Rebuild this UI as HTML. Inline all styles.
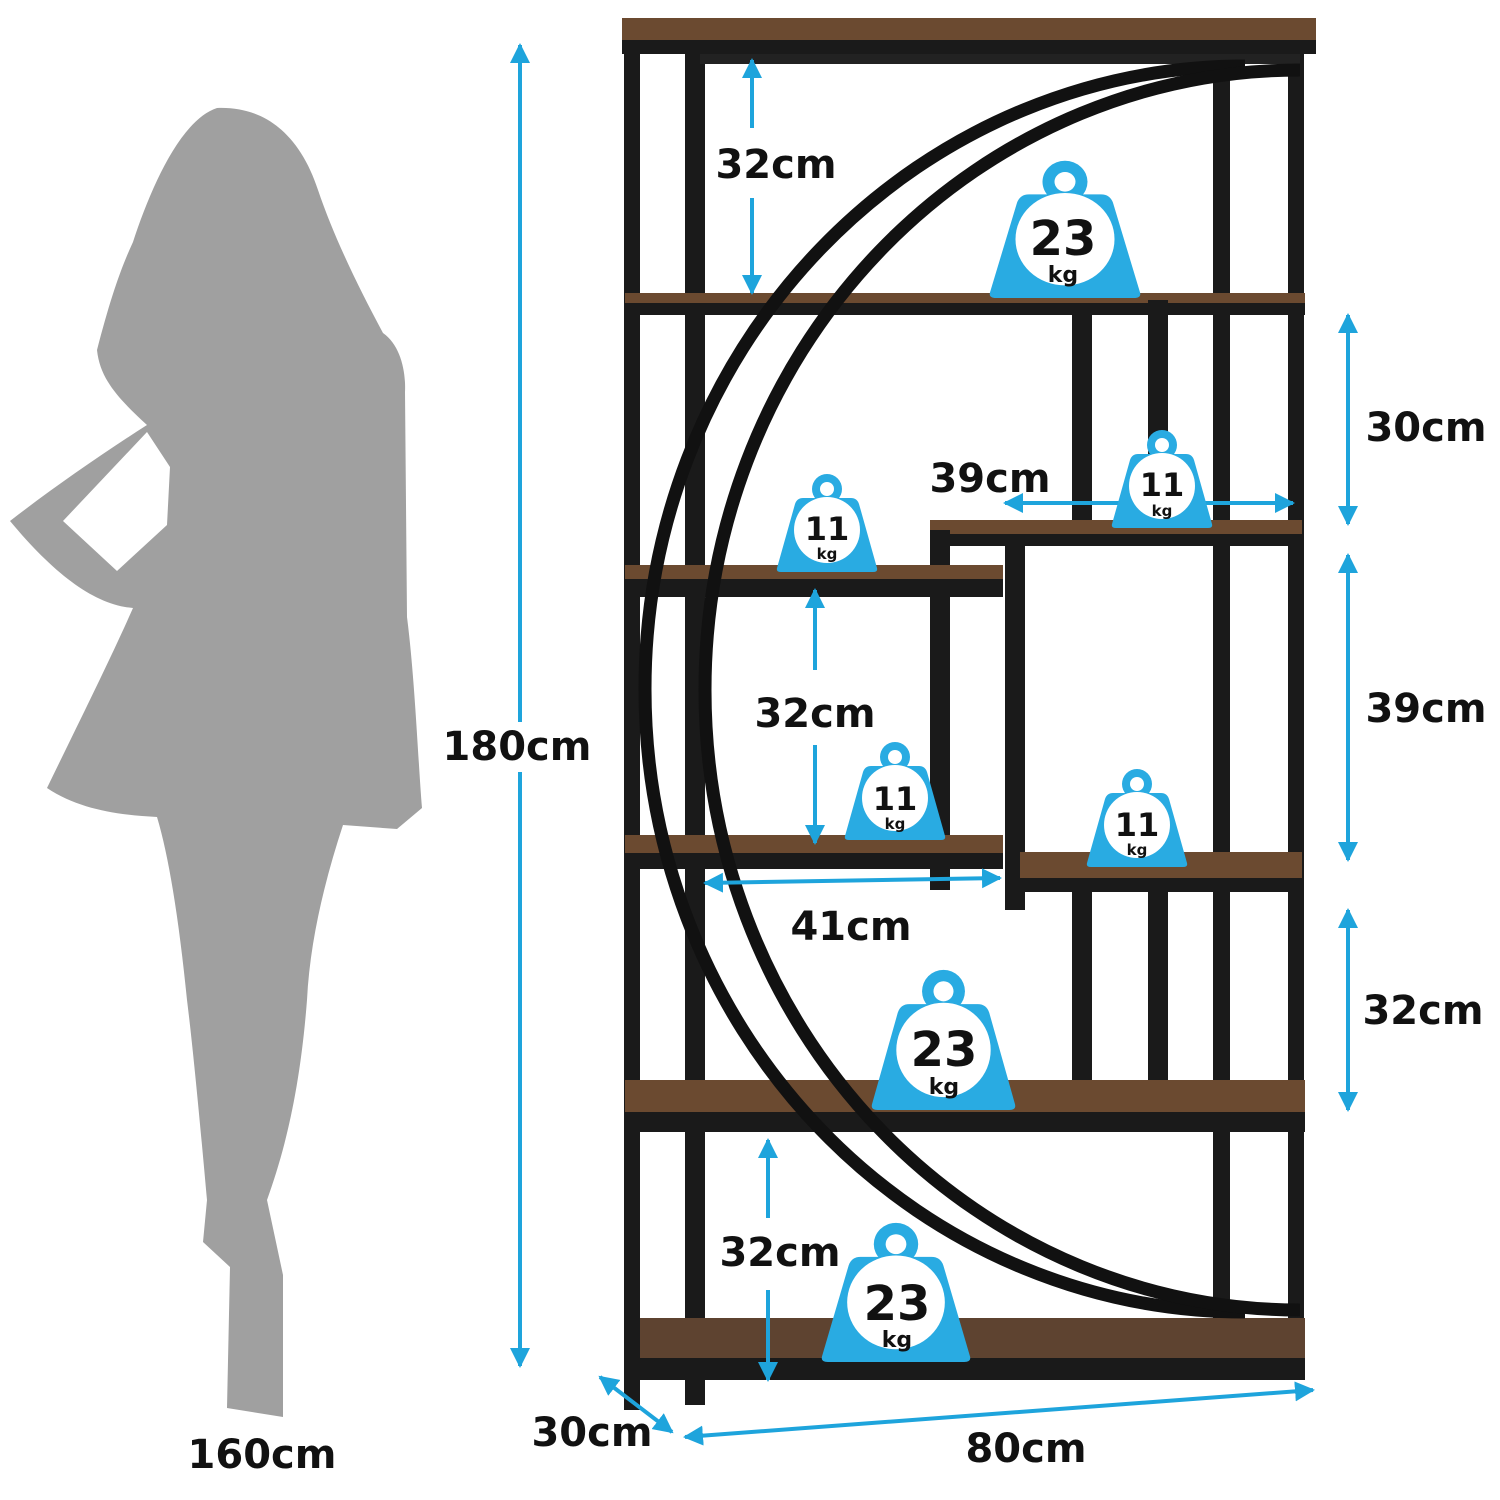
<!DOCTYPE html>
<html><head><meta charset="utf-8"><style>
html,body{margin:0;padding:0;background:#fff;}
svg{display:block;}
text{font-family:"DejaVu Sans","Liberation Sans",sans-serif;font-weight:bold;fill:#111;}
</style></head><body>
<svg width="1500" height="1500" viewBox="0 0 1500 1500" xmlns="http://www.w3.org/2000/svg">
<defs>
<marker id="ah" viewBox="0 0 10 10" refX="9" refY="5" markerWidth="5" markerHeight="5" orient="auto-start-reverse">
<path d="M0,0 L10,5 L0,10 Z" fill="#1ea4dc"/></marker>
<g id="wt">
<circle cx="50" cy="17" r="15" fill="#29abe2"/>
<circle cx="50" cy="17" r="7" fill="#fff"/>
<path d="M26,26 L74,26 Q80,26 82,32 L100,96 Q101,100 96,100 L4,100 Q-1,100 0,96 L18,32 Q20,26 26,26 Z" fill="#29abe2"/>
<circle cx="50" cy="58" r="33" fill="#fff"/>
</g>
</defs>

<path fill="#a0a0a0" fill-rule="evenodd" d="M217,108 C265,106 300,135 318,190 C335,240 360,290 383,333 C400,345 406,370 405,392 L407,617 C415,680 418,760 422,808 L397,829 L343,825 C325,880 310,940 307,1000 C300,1090 285,1150 267,1200 L283,1275 L283,1417 L227,1408 L230,1267 L203,1242 L207,1200 C198,1100 192,1040 187,1000 C180,930 170,860 157,817 C120,815 80,810 47,788 C80,720 110,660 133,608 C95,605 55,575 10,521 C50,490 100,455 147,425 C120,400 100,380 97,350 C110,300 120,270 133,242 C150,190 180,120 217,108 Z M63,521 L147,432 L170,467 L167,525 L117,571 Z"/>
<text x="262" y="1468" font-size="40" text-anchor="middle">160cm</text>

<line x1="520" y1="45" x2="520" y2="1366" stroke="#1ea4dc" stroke-width="4" marker-start="url(#ah)" marker-end="url(#ah)"/>
<rect x="436" y="722" width="168" height="50" fill="#fff"/>
<text x="517" y="760" font-size="40" text-anchor="middle">180cm</text>

<g>
<rect x="1213" y="60" width="17" height="1260" fill="#1a1a1a"/>
<rect x="1288" y="45" width="16" height="1325" fill="#1a1a1a"/>
<rect x="624" y="40" width="16" height="1370" fill="#1a1a1a"/>
<rect x="685" y="45" width="20" height="1360" fill="#1a1a1a"/>
<rect x="622" y="18" width="694" height="24" fill="#6b4a30"/>
<rect x="622" y="40" width="694" height="14" fill="#1a1a1a"/>
<rect x="700" y="54" width="600" height="10" fill="#222"/>
<rect x="625" y="293" width="680" height="10" fill="#6b4a30"/>
<rect x="625" y="303" width="680" height="12" fill="#1a1a1a"/>
<rect x="1072" y="310" width="20" height="220" fill="#1a1a1a"/>
<rect x="1148" y="300" width="20" height="230" fill="#1a1a1a"/>
<rect x="930" y="520" width="372" height="14" fill="#6b4a30"/>
<rect x="930" y="534" width="372" height="12" fill="#1a1a1a"/>
<rect x="930" y="530" width="20" height="360" fill="#1a1a1a"/>
<rect x="1005" y="540" width="20" height="370" fill="#1a1a1a"/>
<rect x="625" y="565" width="378" height="14" fill="#6b4a30"/>
<rect x="625" y="579" width="378" height="18" fill="#1a1a1a"/>
<rect x="625" y="835" width="378" height="18" fill="#6b4a30"/>
<rect x="625" y="853" width="378" height="16" fill="#1a1a1a"/>
<rect x="1020" y="852" width="282" height="26" fill="#6b4a30"/>
<rect x="1020" y="878" width="282" height="14" fill="#1a1a1a"/>
<rect x="1072" y="890" width="20" height="200" fill="#1a1a1a"/>
<rect x="1148" y="890" width="20" height="230" fill="#1a1a1a"/>
<rect x="625" y="1080" width="680" height="34" fill="#6b4a30"/>
<rect x="625" y="1112" width="680" height="20" fill="#1a1a1a"/>
<rect x="640" y="1318" width="665" height="42" fill="#5e4330"/>
<rect x="625" y="1358" width="680" height="22" fill="#1a1a1a"/>
<path d="M1245,66 A600,623 0 0 0 645,689 A600,623 0 0 0 1245,1312" fill="none" stroke="#111" stroke-width="13"/>
<path d="M1300,70 A595,620 0 0 0 705,690 A595,620 0 0 0 1300,1310" fill="none" stroke="#111" stroke-width="13"/>
</g>

<g stroke="#1ea4dc" stroke-width="4" fill="none">
<line x1="752" y1="60" x2="752" y2="128" marker-start="url(#ah)"/>
<line x1="752" y1="198" x2="752" y2="293" marker-end="url(#ah)"/>
<line x1="815" y1="590" x2="815" y2="670" marker-start="url(#ah)"/>
<line x1="815" y1="745" x2="815" y2="843" marker-end="url(#ah)"/>
<line x1="768" y1="1140" x2="768" y2="1218" marker-start="url(#ah)"/>
<line x1="768" y1="1290" x2="768" y2="1380" marker-end="url(#ah)"/>
<line x1="1348" y1="315" x2="1348" y2="524" marker-start="url(#ah)" marker-end="url(#ah)"/>
<line x1="1348" y1="555" x2="1348" y2="860" marker-start="url(#ah)" marker-end="url(#ah)"/>
<line x1="1348" y1="910" x2="1348" y2="1110" marker-start="url(#ah)" marker-end="url(#ah)"/>
<line x1="1005" y1="503" x2="1293" y2="503" marker-start="url(#ah)" marker-end="url(#ah)"/>
<line x1="705" y1="883" x2="1000" y2="878" marker-start="url(#ah)" marker-end="url(#ah)"/>
<line x1="685" y1="1437" x2="1313" y2="1390" marker-start="url(#ah)" marker-end="url(#ah)"/>
<line x1="600" y1="1377" x2="672" y2="1432" marker-start="url(#ah)" marker-end="url(#ah)"/>
</g>
<g font-size="40">
<text x="776" y="178" text-anchor="middle">32cm</text>
<text x="815" y="727" text-anchor="middle">32cm</text>
<text x="780" y="1266" text-anchor="middle">32cm</text>
<text x="1426" y="441" text-anchor="middle">30cm</text>
<text x="1426" y="722" text-anchor="middle">39cm</text>
<text x="1423" y="1024" text-anchor="middle">32cm</text>
<text x="990" y="492" text-anchor="middle">39cm</text>
<text x="851" y="940" text-anchor="middle">41cm</text>
<text x="1026" y="1462" text-anchor="middle">80cm</text>
<text x="592" y="1446" text-anchor="middle">30cm</text>
</g>

<g transform="translate(990,158) scale(1.5,1.4)"><use href="#wt"/></g>
<text x="1063" y="255" font-size="48" text-anchor="middle">23</text>
<text x="1063" y="282" font-size="22" text-anchor="middle">kg</text>

<g transform="translate(1112,428)"><use href="#wt"/></g>
<text x="1162" y="496" font-size="32" text-anchor="middle">11</text>
<text x="1162" y="516" font-size="15" text-anchor="middle">kg</text>

<g transform="translate(777,472)"><use href="#wt"/></g>
<text x="827" y="540" font-size="32" text-anchor="middle">11</text>
<text x="827" y="559" font-size="15" text-anchor="middle">kg</text>

<g transform="translate(845,740)"><use href="#wt"/></g>
<text x="895" y="810" font-size="32" text-anchor="middle">11</text>
<text x="895" y="829" font-size="15" text-anchor="middle">kg</text>

<g transform="translate(1087,767)"><use href="#wt"/></g>
<text x="1137" y="836" font-size="32" text-anchor="middle">11</text>
<text x="1137" y="855" font-size="15" text-anchor="middle">kg</text>

<g transform="translate(872,967) scale(1.43,1.43)"><use href="#wt"/></g>
<text x="944" y="1066" font-size="48" text-anchor="middle">23</text>
<text x="944" y="1094" font-size="22" text-anchor="middle">kg</text>

<g transform="translate(822,1220) scale(1.48,1.42)"><use href="#wt"/></g>
<text x="897" y="1320" font-size="48" text-anchor="middle">23</text>
<text x="897" y="1347" font-size="22" text-anchor="middle">kg</text>
</svg>
</body></html>
